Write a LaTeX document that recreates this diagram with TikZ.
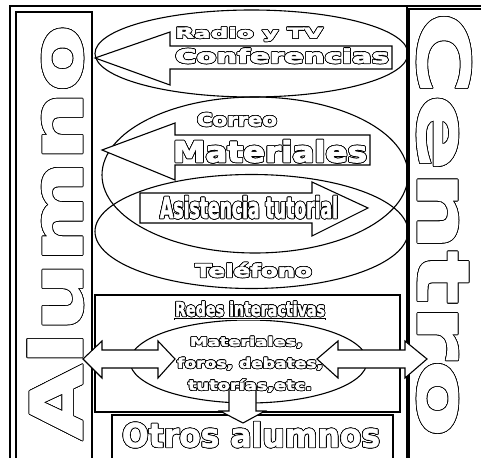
\documentclass[tikz,border=0pt]{standalone}
\usepackage{fontspec}
\setmainfont{DejaVu Sans}[BoldFeatures={FakeBold=3}]
\newfontfamily\heavyfont{DejaVu Sans}[BoldFeatures={FakeBold=1.5}]
\usepackage{graphicx}
\usepackage{contour}
\contourlength{0.75pt}
\newlength\capht
\protected\def\fitt#1#2#3{\setlength\capht{\fontcharht\font`\T}\resizebox{#1}{#2}{\raisebox{0pt}[\capht][0pt]{#3}}}
\newcommand\ot[3]{{\bfseries\color{white}\contour{black}{\fitt{#1}{#2}{#3}}}}
\newcommand\oth[3]{{\heavyfont\bfseries\color{white}\contour{black}{\fitt{#1}{#2}{#3}}}}
\begin{document}
\begin{tikzpicture}[x=1pt,y=-1pt,
  shp/.style={draw=black, line width=1.1pt},
  blk/.style={draw=black, fill=white, line width=1.1pt, line join=miter},
  lbl/.style={anchor=base west, inner sep=0pt, outer sep=0pt}]
\useasboundingbox (0,0) rectangle (481,457);
\clip (0,0) rectangle (481,457);
% frame
\draw[shp] (10,6) rectangle (500,480);
\draw[shp] (16,12) rectangle (92,480);
\draw[shp] (407,6) -- (407,480);
\draw[shp] (409,9) rectangle (500,480);
% ellipses and boxes
\draw[shp] (251.5,53.5) ellipse [x radius=156.5, y radius=43.5];
\draw[shp] (255,175) ellipse [x radius=153, y radius=78];
\draw[shp] (251.5,231.5) ellipse [x radius=156.5, y radius=57];
\draw[shp] (95,295) rectangle (400,412);
\draw[shp] (248.5,361.5) ellipse [x radius=118.5, y radius=41.5];
\draw[shp] (112,415) rectangle (393,480);
% block arrows
\draw[blk] (95,58) -- (170,32) -- (170,46) -- (392,46) -- (392,69) -- (170,69) -- (170,85) -- cycle;
\draw[blk] (102,150) -- (175,123) -- (175,135) -- (370,135) -- (370,165) -- (175,165) -- (175,180) -- cycle;
\draw[blk] (140,193) -- (312,193) -- (312,182) -- (368,208) -- (312,236) -- (312,223) -- (140,223) -- cycle;
\draw[blk] (83,359) -- (102,341) -- (102,350) -- (158,350) -- (158,341) -- (175,359) -- (158,378) -- (158,368) -- (102,368) -- (102,378) -- cycle;
\draw[blk] (317,359) -- (338,341) -- (338,350) -- (405,350) -- (405,341) -- (427,359) -- (405,378) -- (405,368) -- (338,368) -- (338,378) -- cycle;
\draw[blk] (229,388) -- (256,388) -- (256,411) -- (265,411) -- (243,423) -- (220,411) -- (229,411) -- cycle;
% texts
\node[lbl, rotate=90] (alumno) at (82,440) {\oth{415pt}{52pt}{Alumno}};
\node[lbl, rotate=-90] (centro) at (418,12) {\oth{425pt}{52pt}{Centro}};
\node[lbl] (radio) at (175,38) {\ot{148pt}{10.5pt}{Radio y TV}};
\node[lbl] (conf) at (175,63) {\ot{214pt}{14pt}{Conferencias}};
\node[lbl] (correo) at (197,126) {\ot{80pt}{13pt}{Correo}};
\node[lbl] (mat) at (173,162) {\ot{194pt}{21pt}{Materiales}};
\node[lbl] (asis) at (160,218) {\ot{178pt}{21pt}{Asistencia tutorial}};
\node[lbl] (tel) at (195,277) {\ot{117pt}{13pt}{Teléfono}};
\node[lbl] (redes) at (175,316) {\ot{150pt}{14pt}{\underline{Redes interactivas}}};
\node[lbl] (m2) at (190,346) {\ot{113pt}{9pt}{Materiales,}};
\node[lbl] (foros) at (177,368) {\ot{146pt}{10pt}{foros, debates,}};
\node[lbl] (tut) at (188,390) {\ot{124pt}{10pt}{tutorías,etc.}};
\node[lbl] (otros) at (122,447) {\oth{258pt}{24pt}{Otros alumnos}};
\end{tikzpicture}
\end{document}
